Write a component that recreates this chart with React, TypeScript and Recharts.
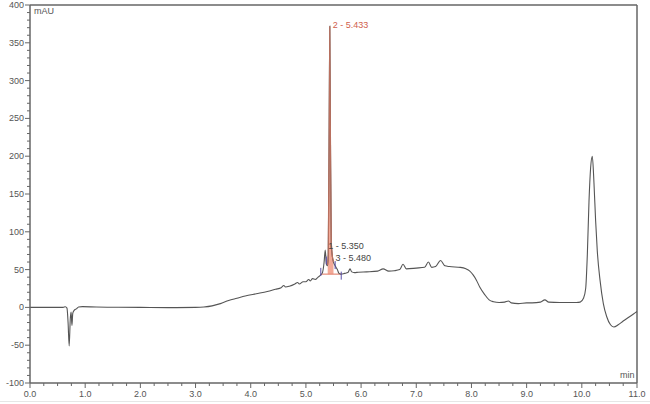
import React from "react"
import {
  ComposedChart, Line, Area, Scatter, XAxis, YAxis, ReferenceLine
} from "recharts"

// chromatogram trace: retention time (min) and absorbance (mAU)
const times = [
  0, 0.3, 0.6, 0.64, 0.67, 0.69, 0.71, 0.73, 0.745, 0.76, 0.775, 0.8, 0.84, 0.88, 0.95,
  1.2, 1.6, 2.0, 2.5, 3.0, 3.15, 3.3, 3.45, 3.6, 3.75, 3.9, 4.1, 4.3, 4.45, 4.55,
  4.6, 4.63, 4.7, 4.8, 4.85, 4.88, 4.95, 5.0, 5.05, 5.08, 5.12, 5.17, 5.22, 5.27, 5.3,
  5.33, 5.35, 5.37, 5.39, 5.405, 5.42, 5.433, 5.445, 5.46, 5.48, 5.5, 5.53, 5.57, 5.6, 5.64,
  5.7, 5.76, 5.8, 5.83, 5.88, 5.95, 6.1, 6.3, 6.4, 6.5, 6.6, 6.7, 6.76, 6.82, 7.0,
  7.15, 7.22, 7.28, 7.35, 7.44, 7.52, 7.6, 7.8, 7.9, 7.97, 8.03, 8.09, 8.15, 8.24, 8.32,
  8.4, 8.5, 8.6, 8.67, 8.72, 8.85, 9.0, 9.1, 9.25, 9.33, 9.4, 9.6, 9.9, 9.97, 10.03,
  10.07, 10.1, 10.13, 10.16, 10.19, 10.22, 10.25, 10.28, 10.33, 10.39, 10.45, 10.52, 10.58, 10.66, 10.75,
  10.85, 10.93, 11.0,
]
const mau = [
  0, 0, 0, 0.8, -1, -20, -51, -15, -6, -24, -8, -4, -2, 0.5, 1,
  0.5, 0.2, 0, -0.3, 0, 0.5, 2, 5, 9, 12, 15, 18, 21, 24, 26,
  29, 27, 28, 31, 33, 31, 34, 34, 37, 35, 38, 37, 40, 43, 46,
  60, 76, 58, 55, 70, 220, 372, 220, 85, 67, 60, 55, 50, 45, 44,
  45, 46, 51, 47, 46, 46.5, 47, 48, 51, 48, 48.5, 50, 57, 51, 52,
  53, 60, 53, 54, 62, 55, 54, 53, 51, 48, 43, 36, 27, 17, 10,
  7.5, 6.5, 7, 8.5, 6, 5, 6, 6, 7, 10, 7, 6.5, 6.5, 7, 12,
  25, 70, 140, 185, 200, 165, 115, 75, 36, 5, -12, -23, -26, -23, -18,
  -13, -9, -5.5,
]

// integrated peak 2 (shaded)
const peak2Times = [5.395, 5.405, 5.42, 5.433, 5.445, 5.46, 5.48, 5.5]
const peak2Tops = [56, 70, 220, 372, 220, 85, 67, 60]
const peak2Base = 44

// peak labels
const peakNames = ["1 - 5.350", "2 - 5.433", "3 - 5.480"]
const peakTimes = [5.35, 5.433, 5.48]
const peakHeights = [76, 372, 67]
const peakColors = ["#444", "#d0604c", "#444"]
const peakDy = [-1, 2, 4]

// integration markers
const markerTimes = [5.27, 5.37, 5.53, 5.64]
const markerValues = [47, 62, 56, 42]

const xMajor = [0, 1, 2, 3, 4, 5, 6, 7, 8, 9, 10, 11]
const yMajor = [-100, -50, 0, 50, 100, 150, 200, 250, 300, 350, 400]
const xTicks = Array.from({ length: 45 }, (_, i) => i * 0.25)
const yTicks = Array.from({ length: 51 }, (_, i) => -100 + i * 10)

const trace = times.map((t, i) => ({ t, v: mau[i] }))
const peak2 = peak2Times.map((t, i) => ({ t, r: [peak2Base, peak2Tops[i]] }))
const labels = peakTimes.map((t, i) => ({
  t, v: peakHeights[i], name: peakNames[i], color: peakColors[i], dy: peakDy[i],
}))
const markers = markerTimes.map((t, i) => ({ t, v: markerValues[i] }))

const AXIS = "#666"
const FONT = "Liberation Sans, Arial, sans-serif"

function XTick({ x, y, payload }: any) {
  const major = xMajor.some(m => Math.abs(m - payload.value) < 1e-6)
  return (
    <g>
      <line x1={x} x2={x} y1={y} y2={y + (major ? 5 : 3)} stroke={AXIS} />
      {major && (
        <text x={x} y={y + 14} textAnchor="middle" fontSize={9} fill="#555" fontFamily={FONT}>
          {payload.value.toFixed(1)}
        </text>
      )}
    </g>
  )
}

function YTick({ x, y, payload }: any) {
  const major = yMajor.includes(Math.round(payload.value))
  return (
    <g>
      <line x1={x} x2={x - (major ? 5 : 3)} y1={y} y2={y} stroke={AXIS} />
      {major && (
        <text x={x - 6} y={y + 3} textAnchor="end" fontSize={9} fill="#555" fontFamily={FONT}>
          {Math.round(payload.value)}
        </text>
      )}
    </g>
  )
}

function PeakLabel({ cx, cy, payload }: any) {
  return (
    <text x={cx + 3} y={cy + payload.dy} fontSize={9} fill={payload.color} fontFamily={FONT}>
      {payload.name}
    </text>
  )
}

function Marker({ cx, cy }: any) {
  return <line x1={cx} x2={cx} y1={cy - 4} y2={cy + 4} stroke="#5a4fa8" strokeWidth={1} />
}

export default function App() {
  return (
    <div style={{ position: "absolute", left: 0, top: 0, width: 650, height: 404, background: "#fff", fontFamily: FONT }}>
      <ComposedChart width={650} height={404} margin={{ top: 5, right: 13, bottom: 0, left: 0 }}>
        <XAxis
          dataKey="t"
          type="number"
          domain={[0, 11]}
          ticks={xTicks}
          interval={0}
          height={21}
          tickSize={0}
          tickMargin={0}
          tickLine={false}
          tick={<XTick />}
          stroke={AXIS}
          strokeWidth={1.5}
          allowDataOverflow
        />
        <YAxis
          type="number"
          domain={[-100, 400]}
          ticks={yTicks}
          interval={0}
          width={30}
          tickSize={0}
          tickMargin={0}
          tickLine={false}
          tick={<YTick />}
          stroke={AXIS}
          strokeWidth={1.5}
          allowDataOverflow
        />
        <ReferenceLine y={400} stroke={AXIS} strokeWidth={1.5} />
        <ReferenceLine x={11} stroke={AXIS} strokeWidth={1.5} />
        <ReferenceLine
          segment={[{ x: 5.27, y: peak2Base }, { x: 5.64, y: peak2Base }]}
          stroke="#e58a78"
          strokeWidth={1.2}
        />
        <Area
          data={peak2}
          dataKey="r"
          type="linear"
          fill="#f2a08c"
          fillOpacity={0.9}
          stroke="none"
          isAnimationActive={false}
        />
        <Line
          data={trace}
          dataKey="v"
          type="monotone"
          stroke="#555"
          strokeWidth={1.1}
          dot={false}
          isAnimationActive={false}
        />
        <Line
          data={peak2Times.map((t, i) => ({ t, v: peak2Tops[i] }))}
          dataKey="v"
          type="linear"
          stroke="#b9705f"
          strokeWidth={1.2}
          dot={false}
          isAnimationActive={false}
        />
        <Scatter data={markers} dataKey="v" shape={<Marker />} isAnimationActive={false} />
        <Scatter data={labels} dataKey="v" shape={<PeakLabel />} isAnimationActive={false} />
      </ComposedChart>
      <span style={{ position: "absolute", left: 34, top: 6, fontSize: 9, color: "#555" }}>mAU</span>
      <span style={{ position: "absolute", left: 620, top: 370, fontSize: 9, color: "#555" }}>min</span>
      <div style={{ position: "absolute", left: 0, top: 401, width: 650, height: 1, background: "#e6e6e6" }} />
    </div>
  )
}
